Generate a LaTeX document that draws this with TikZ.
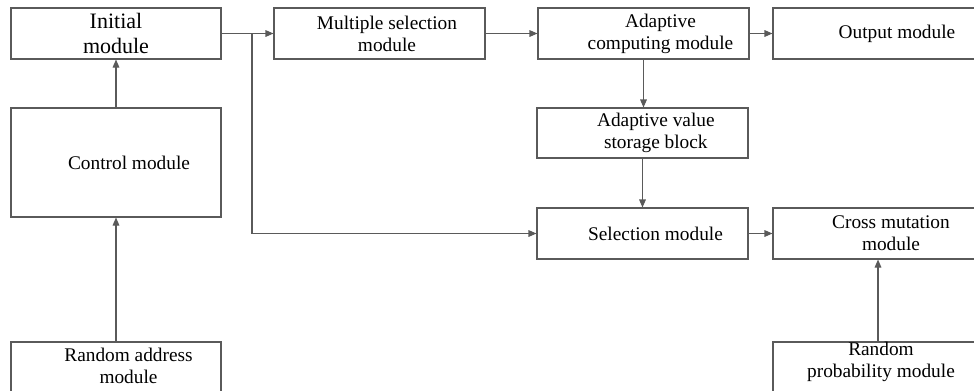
\documentclass[tikz,border=0pt]{standalone}
\usepackage{fontspec}
\setmainfont{Liberation Serif}
\usetikzlibrary{arrows.meta,calc}
\definecolor{ln}{HTML}{5A5A5A}
\begin{document}
\begin{tikzpicture}[x=0.75pt,y=-0.75pt,
  box/.style={draw=ln,line width=0.8pt,rectangle,inner sep=0pt,minimum width=157.5pt},
  txt/.style={font=\fontsize{14.5}{16.5}\selectfont,align=center,text=black,inner sep=0pt},
  big/.style={font=\fontsize{16.5}{18.75}\selectfont,align=center,text=black,inner sep=0pt},
  conn/.style={draw=ln,line width=0.8pt,-{Triangle[length=6pt,width=5pt]}}]
\useasboundingbox (0,0) rectangle (974,390);
\clip (0,0) rectangle (974,390);

\node[box,minimum height=38.25pt,label={[big]center:{Initial\\module}}] (init) at (116,33.5) {};
\node[box,minimum height=81.75pt,label={[txt,xshift=9.75pt]center:{Control module}}] (ctrl) at (116,162.5) {};
\node[box,minimum height=43.5pt,label={[txt,xshift=9.4pt,yshift=3.75pt]center:{Random address\\module}}] (raddr) at (116,371) {};

\node[box,minimum width=158.25pt,minimum height=38.25pt,label={[txt,xshift=5.6pt]center:{Multiple selection\\module}}] (ms) at (379.5,33.5) {};
\node[box,minimum width=158.25pt,minimum height=38.25pt,label={[txt,xshift=12.75pt]center:{Adaptive\\computing module}}] (acm) at (643.5,33.5) {};
\node[box,minimum height=38.25pt,label={[txt,xshift=14.25pt]center:{Output module}}] (out) at (878,33.5) {};

\node[box,minimum width=158.25pt,minimum height=37.5pt,label={[txt,xshift=10pt]center:{Adaptive value\\storage block}}] (avs) at (642.5,133) {};
\node[box,minimum width=158.25pt,minimum height=38.25pt,label={[txt,xshift=9.75pt]center:{Selection module}}] (sel) at (642.5,233.5) {};
\node[box,minimum height=38.25pt,label={[txt,xshift=9.75pt]center:{Cross mutation\\module}}] (cross) at (878,233.5) {};
\node[box,minimum height=43.5pt,label={[txt,xshift=2.25pt,yshift=7.1pt]center:{Random\\probability module}}] (rprob) at (878,371) {};

\coordinate (br) at (252,33.5);

\draw[conn] (init.east) -- (ms.west);
\draw[conn] (br) |- (sel.west);
\draw[conn] (ms.east) -- (acm.west);
\draw[conn] (acm.east) -- (out.west);
\draw[conn] (acm.south) -- (acm.south |- avs.north);
\draw[conn] (avs.south) -- (sel.north);
\draw[conn] (sel.east) -- (cross.west);
\draw[conn] (rprob.north) -- (cross.south);
\draw[conn] (ctrl.north) -- (init.south);
\draw[conn] (raddr.north) -- (ctrl.south);
\end{tikzpicture}
\end{document}
